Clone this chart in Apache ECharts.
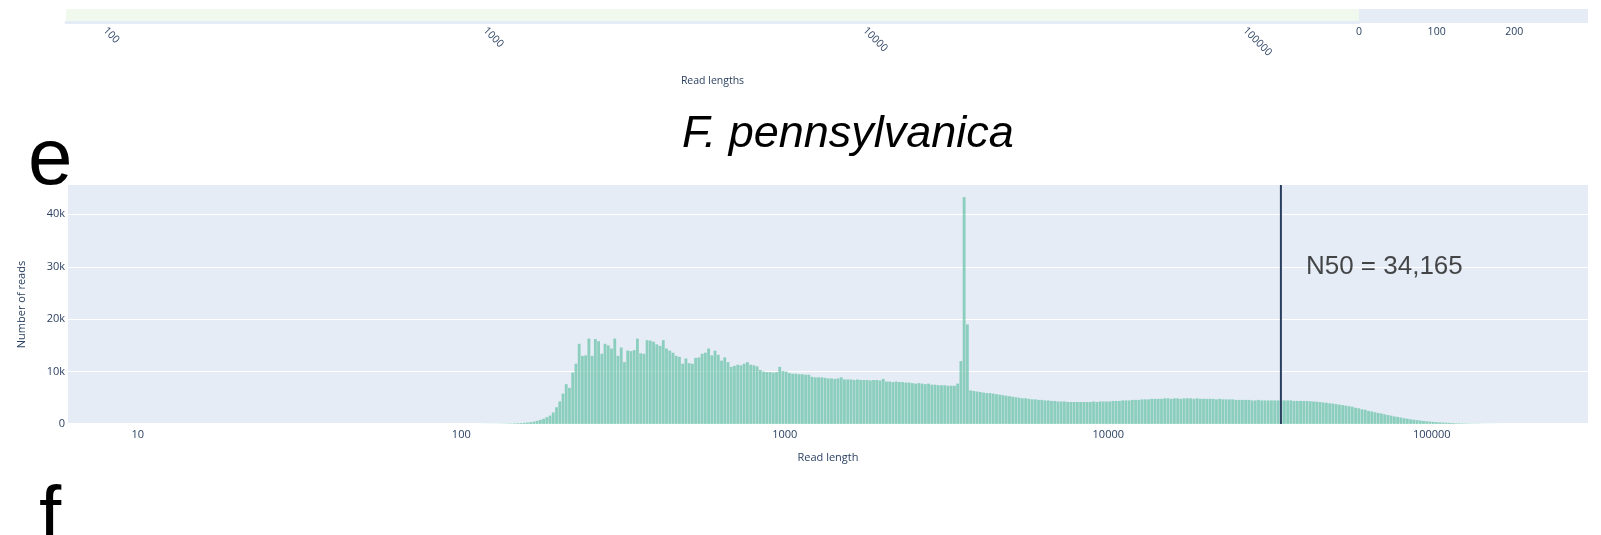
<!DOCTYPE html>
<html>
<head>
<meta charset="utf-8">
<script src="https://cdn.jsdelivr.net/npm/echarts@6/dist/echarts.min.js"></script>
<style>
html,body{margin:0;padding:0;background:#fff;}
#chart{width:1601px;height:535px;}
</style>
</head>
<body>
<div id="chart"></div>
<script>
// ---- data ----
const panelLabels = ['e', 'f'];
const chartTitle = 'F. pennsylvanica';
const xAxisTitle = 'Read length';
const yAxisTitle = 'Number of reads';
const topAxisTitle = 'Read lengths';
// histogram bins on log10(read length): first bin starts at 10^2, each bin is 0.01 wide in log10
const binStartLog10 = 2.0;
const binWidthLog10 = 0.01;
const readCounts = [
  0,0,0,0,0,10,10,20,20,30,
  30,40,50,60,80,100,120,150,180,220,
  280,350,450,600,800,1000,1300,1600,2200,3200,
  4300,5800,7600,6900,9800,11500,15300,13000,13100,16300,
  13000,16200,15800,13400,15300,15000,14400,16300,13000,14600,
  11800,14000,13900,14100,16300,13500,13400,16000,15900,15700,
  15200,14900,16000,14400,14000,13600,13000,12800,11500,12500,
  11600,11500,12600,12700,13400,13600,14400,13100,14000,13200,
  12100,12700,11800,10900,11100,11300,11200,11500,11800,11300,
  11200,11000,10300,10000,9900,9900,9800,9900,10900,10100,
  10000,9700,9600,9600,9500,9500,9400,9400,9000,8900,
  8900,8900,8800,8700,8700,8600,8700,8900,8500,8500,
  8500,8400,8500,8400,8400,8400,8300,8400,8400,8300,
  8600,8100,8100,8000,8100,8000,8000,7900,7900,7800,
  7700,7800,7700,7600,7700,7500,7500,7400,7400,7400,
  7300,7300,7300,7700,12000,43300,19000,6400,6300,6200,
  6100,6000,5900,5900,5800,5700,5600,5500,5400,5300,
  5200,5100,5000,4900,4900,4800,4700,4700,4600,4600,
  4500,4500,4400,4400,4300,4300,4300,4200,4200,4200,
  4200,4200,4200,4200,4200,4300,4200,4300,4300,4300,
  4300,4400,4400,4400,4500,4500,4500,4600,4600,4600,
  4700,4700,4700,4800,4800,4800,4800,4900,4900,4800,
  4900,4900,4800,4900,4900,4900,4800,4900,4800,4800,
  4800,4800,4800,4700,4800,4700,4700,4700,4700,4600,
  4600,4600,4600,4600,4500,4500,4600,4500,4500,4500,
  4500,4500,4500,4500,4500,4500,4500,4400,4400,4400,
  4400,4400,4350,4300,4250,4200,4100,4050,3950,3900,
  3800,3700,3600,3500,3400,3300,3100,3000,2800,2700,
  2500,2400,2250,2100,2000,1850,1700,1600,1450,1350,
  1250,1100,1000,900,820,740,660,580,520,460,
  400,350,310,270,240,210,180,150,130,110,
  95,80,65,55,45,35,28,22,17,13,
  10,8,6,4,3,2,2,1,1,0
];
const n50Value = 34165;
const n50Text = 'N50 = 34,165';
const n50TextLevel = 30000;
const yTickStep = 10000;
const yMax = 45600;
const xMin = 6.085, xMax = 304000;
const topXMin = 79, topXMax = 200000;
const topRightMax = 295, topRightStep = 100;

// ---- build ----
const histData = readCounts.map((c, i) => [
  Math.pow(10, binStartLog10 + i * binWidthLog10),
  Math.pow(10, binStartLog10 + (i + 1) * binWidthLog10),
  c
]);

const axisColor = '#2a3f5f';
const tickFont = 'Open Sans';
function powLabel(v) {
  const l = Math.log10(v);
  return Math.abs(l - Math.round(l)) < 1e-6 ? String(Math.round(v)) : '';
}

const chart = echarts.init(document.getElementById('chart'), null, {renderer: 'canvas'});
chart.setOption({
  animation: false,
  backgroundColor: '#fff',
  title: [
    {text: chartTitle, left: 682, top: 112, padding: 0,
     textStyle: {fontFamily: 'Liberation Sans', fontStyle: 'italic', fontWeight: 'normal', fontSize: 45, color: '#000'}},
    {text: panelLabels[0], left: 28, top: 122, padding: 0,
     textStyle: {fontFamily: 'Liberation Sans', fontWeight: 'normal', fontSize: 80, color: '#000'}},
    {text: panelLabels[1], left: 39, top: 480, padding: 0,
     textStyle: {fontFamily: 'Liberation Sans', fontWeight: 'normal', fontSize: 80, color: '#000'}}
  ],
  grid: [
    {left: 68, right: 13, top: 185, bottom: 111, show: true, backgroundColor: '#e5ecf6', borderWidth: 0},
    {left: 66, right: 242, top: 9, height: 13, show: true, backgroundColor: '#f1f8ee', borderWidth: 0},
    {left: 1359, right: 13, top: 9, height: 14, show: true, backgroundColor: '#e5ecf6', borderWidth: 0}
  ],
  xAxis: [
    {gridIndex: 0, type: 'log', logBase: 10, min: xMin, max: xMax,
     axisLine: {show: true, lineStyle: {color: '#ffffff', width: 2}},
     axisTick: {show: false}, splitLine: {show: false},
     axisLabel: {color: axisColor, fontSize: 11, fontFamily: tickFont, margin: 5, formatter: powLabel},
     name: xAxisTitle, nameLocation: 'middle', nameGap: 28,
     nameTextStyle: {color: axisColor, fontSize: 11, fontFamily: tickFont}},
    {gridIndex: 1, type: 'log', logBase: 10, min: topXMin, max: topXMax,
     axisLine: {show: true, lineStyle: {color: '#e5ecf6', width: 3}},
     axisTick: {show: false}, splitLine: {show: false},
     axisLabel: {color: axisColor, fontSize: 10.5, fontFamily: tickFont, margin: 7, rotate: -45, formatter: powLabel},
     name: topAxisTitle, nameLocation: 'middle', nameGap: 54,
     nameTextStyle: {color: axisColor, fontSize: 10.5, fontFamily: tickFont}},
    {gridIndex: 2, type: 'value', min: 0, max: topRightMax, interval: topRightStep,
     axisLine: {show: false}, axisTick: {show: false}, splitLine: {show: false},
     axisLabel: {color: axisColor, fontSize: 10.5, fontFamily: tickFont, margin: 4, showMaxLabel: false}}
  ],
  yAxis: [
    {gridIndex: 0, type: 'value', min: 0, max: yMax, interval: yTickStep,
     axisLine: {show: false}, axisTick: {show: false},
     splitLine: {show: true, showMaxLine: false, lineStyle: {color: '#ffffff', width: 1}},
     axisLabel: {color: axisColor, fontSize: 11, fontFamily: tickFont, margin: 3, showMaxLabel: false,
       formatter: v => v === 0 ? '0' : (v / 1000) + 'k'},
     name: yAxisTitle, nameLocation: 'middle', nameGap: 41,
     nameTextStyle: {color: axisColor, fontSize: 11, fontFamily: tickFont}},
    {gridIndex: 1, type: 'value', min: 0, max: 1, show: false},
    {gridIndex: 2, type: 'value', min: 0, max: 1, show: false}
  ],
  series: [
    {
      type: 'custom', xAxisIndex: 0, yAxisIndex: 0, silent: true, clip: true,
      data: histData,
      encode: {x: [0, 1], y: 2},
      renderItem: function (params, api) {
        const p0 = api.coord([api.value(0), api.value(2)]);
        const p1 = api.coord([api.value(1), 0]);
        const w = p1[0] - p0[0];
        return {
          type: 'rect',
          shape: {x: p0[0], y: p0[1], width: Math.max(w - 0.4, 0.1), height: p1[1] - p0[1]},
          style: {fill: '#66c2a5', opacity: 0.7}
        };
      }
    },
    {
      type: 'line', xAxisIndex: 0, yAxisIndex: 0, silent: true, symbol: 'none',
      data: [[n50Value, 0], [n50Value, yMax]],
      lineStyle: {color: '#2a3f5f', width: 2}, z: 5
    },
    {
      type: 'scatter', xAxisIndex: 0, yAxisIndex: 0, silent: true, symbolSize: 0,
      data: [[n50Value, n50TextLevel]],
      label: {show: true, position: 'right', distance: 25, formatter: n50Text,
        fontFamily: 'Liberation Sans', fontSize: 26, color: '#1a1a1a'}, z: 6
    }
  ]
});
</script>
</body>
</html>
